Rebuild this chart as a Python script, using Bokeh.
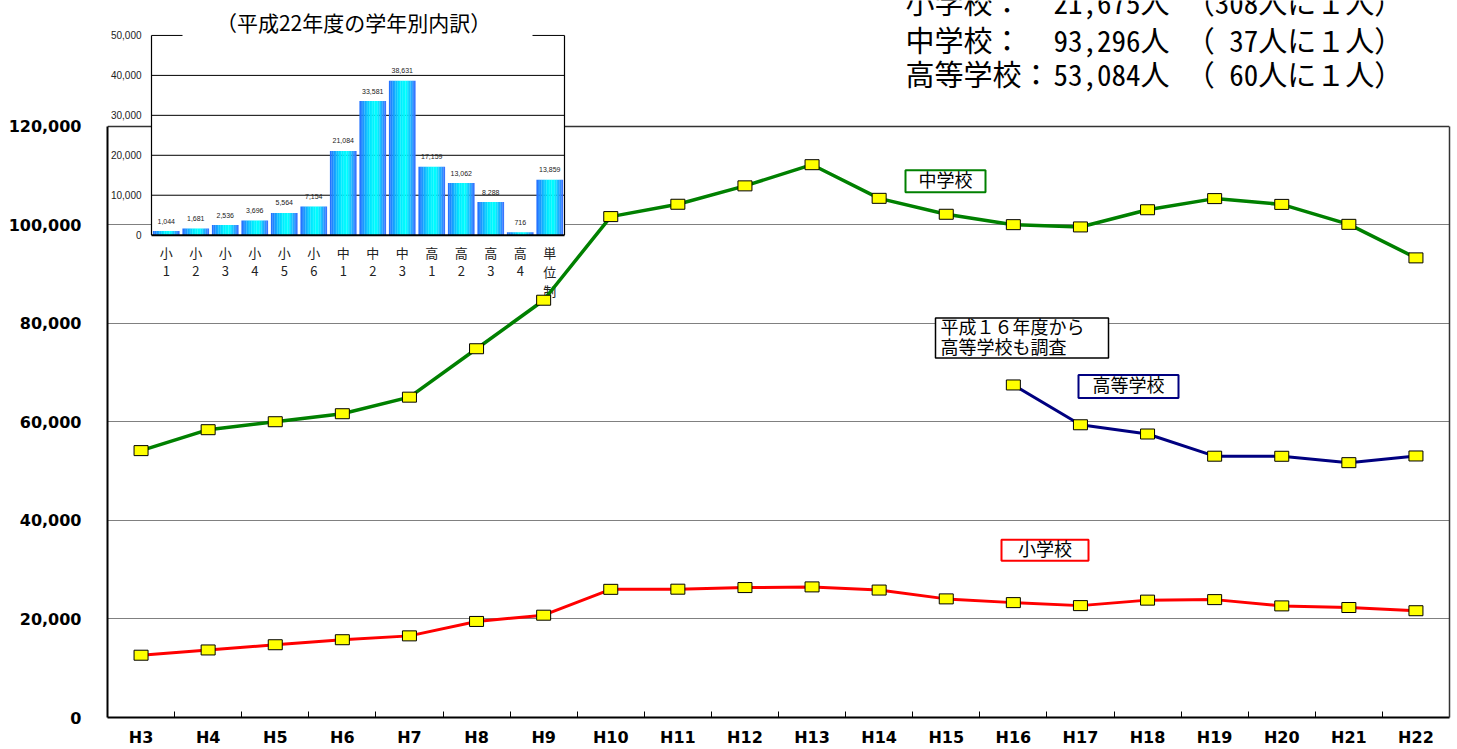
from bokeh.plotting import figure
from bokeh.models import Range1d, FixedTicker, LinearAxis, Grid, NumeralTickFormatter
from bokeh.core.properties import value
from bokeh.embed import file_html
from bokeh.resources import INLINE

# ---------------- data ----------------
years = ["H3", "H4", "H5", "H6", "H7", "H8", "H9", "H10", "H11", "H12",
         "H13", "H14", "H15", "H16", "H17", "H18", "H19", "H20", "H21", "H22"]
junior_high = [54172, 58421, 60039, 61663, 65022, 74853, 84701, 101675, 104180, 107913,
               112211, 105383, 102149, 100040, 99578, 103069, 105328, 104153, 100105, 93296]
elementary = [12645, 13710, 14769, 15786, 16569, 19498, 20765, 26017, 26047, 26373,
              26511, 25869, 24077, 23318, 22709, 23825, 23927, 22652, 22327, 21675]
high_years = ["H16", "H17", "H18", "H19", "H20", "H21", "H22"]
high_school = [67500, 59419, 57544, 53041, 53024, 51728, 53084]
y_ticks = [0, 20000, 40000, 60000, 80000, 100000, 120000]

grade_labels = ["小1", "小2", "小3", "小4", "小5", "小6", "中1", "中2", "中3",
                "高1", "高2", "高3", "高4", "単位制"]
grade_counts = [1044, 1681, 2536, 3696, 5564, 7154, 21084, 33581, 38631,
                17159, 13062, 8288, 716, 13859]
inset_ticks = [0, 10000, 20000, 30000, 40000, 50000]
inset_title = "（平成22年度の学年別内訳）"

summary_labels = ["小学校：", "中学校：", "高等学校："]
summary_counts = ["21,675人", "93,296人", "53,084人"]
summary_ratios = ["（308人に１人）", "（ 37人に１人）", "（ 60人に１人）"]

# ---------------- layout (canvas px) ----------------
W, H = 1457, 749
FL, FR, FB = 107, 1449, 718         # frame left / right / bottom, frame top = 0
Y120_PX = 126                       # canvas px of 120,000
y_end = 120000 * FB / (FB - Y120_PX)
NB = len(years)
main_band = (FR - FL) / NB

def X(px):
    return (px - FL) / main_band - 0.5

def Y(py):
    return (FB - py) / FB * y_end

p = figure(width=W, height=H, output_backend="svg", toolbar_location=None,
           x_range=Range1d(-0.5, NB - 0.5), y_range=Range1d(0, y_end),
           x_axis_type=None, y_axis_type=None,
           min_border_left=FL, min_border_right=W - FR, min_border_top=0,
           min_border_bottom=H - FB)
p.outline_line_color = None
p.background_fill_color = "white"
p.border_fill_color = "white"

# main axes
yax = LinearAxis(ticker=FixedTicker(ticks=y_ticks), formatter=NumeralTickFormatter(format="0,0"),
                 bounds=(0, 120000))
yax.axis_line_color = "black"
yax.axis_line_width = 2
yax.major_tick_in = 0
yax.major_tick_out = 0
yax.minor_tick_in = 0
yax.minor_tick_out = 0
yax.major_label_standoff = 26
yax.major_label_text_font = "DejaVu Sans"
yax.major_label_text_font_style = "bold"
yax.major_label_text_font_size = "16px"
yax.major_label_text_color = "black"
p.add_layout(yax, "left")

rax = LinearAxis(ticker=FixedTicker(ticks=[]), bounds=(0, 120000))
rax.axis_line_color = "#333333"
rax.axis_line_width = 1.5
rax.major_tick_in = 0
rax.major_tick_out = 0
rax.minor_tick_in = 0
rax.minor_tick_out = 0
rax.major_label_standoff = 0
rax.major_label_text_font_size = "0px"
p.add_layout(rax, "right")

xax = LinearAxis(ticker=FixedTicker(ticks=list(range(NB)),
                                    minor_ticks=[i + 0.5 for i in range(NB - 1)]),
                 major_label_overrides={i: y for i, y in enumerate(years)})
xax.axis_line_color = "black"
xax.axis_line_width = 2
xax.major_tick_in = 0
xax.major_tick_out = 0
xax.minor_tick_in = 6
xax.minor_tick_out = 0
xax.minor_tick_line_color = "black"
xax.minor_tick_line_width = 1
xax.major_label_standoff = 10
xax.major_label_text_font = "DejaVu Sans"
xax.major_label_text_font_style = "bold"
xax.major_label_text_font_size = "16px"
xax.major_label_text_color = "black"
p.add_layout(xax, "below")

grid = Grid(dimension=1, ticker=FixedTicker(ticks=y_ticks[1:-1]),
            grid_line_color="#808080", grid_line_width=1)
p.add_layout(grid)
topgrid = Grid(dimension=1, ticker=FixedTicker(ticks=[y_ticks[-1]]),
               grid_line_color="#333333", grid_line_width=1.5)
p.add_layout(topgrid)

# ---------------- inset ----------------
NI = len(grade_labels)
IL, IR = 151, 564          # canvas px of inset left / right
I0_PX, I50_PX = 235, 35    # canvas px of 0 and 50,000
ib = (IR - IL) / NI
ix_start = -(IL - FL) / ib
ix_end = ix_start + (FR - FL) / ib
ppu = (I0_PX - I50_PX) / inset_ticks[-1]
iy_start = -(FB - I0_PX) / ppu
iy_end = I0_PX / ppu
p.extra_x_ranges = {"ix": Range1d(ix_start, ix_end)}
p.extra_y_ranges = {"iy": Range1d(iy_start, iy_end)}
R = dict(x_range_name="ix", y_range_name="iy")

p.quad(left=[0], right=[NI], bottom=[-64 / ppu], top=[inset_ticks[-1]],
       fill_color="white", line_color=None, **R)

# inset grid lines
p.segment(x0=[0] * 4, x1=[NI] * 4, y0=inset_ticks[1:-1], y1=inset_ticks[1:-1],
          line_color="black", line_width=1, **R)
gap0, gap1 = 31 / ib, 381 / ib
p.segment(x0=[0, gap1], x1=[gap0, NI], y0=[inset_ticks[-1]] * 2, y1=[inset_ticks[-1]] * 2,
          line_color="black", line_width=1, **R)
p.segment(x0=[0, NI], x1=[0, NI], y0=[0, 0], y1=[inset_ticks[-1]] * 2,
          line_color="black", line_width=1.2, **R)

# gradient bars
NS = 16
BW = 0.9
def grad(t):
    stops = [(0.0, (40, 105, 255)), (0.42, (0, 235, 255)), (0.65, (0, 255, 255)),
             (1.0, (60, 105, 255))]
    for (t0, c0), (t1, c1) in zip(stops[:-1], stops[1:]):
        if t <= t1:
            f = (t - t0) / (t1 - t0)
            return "#%02x%02x%02x" % tuple(int(round(a + (b - a) * f)) for a, b in zip(c0, c1))
    return "#%02x%02x%02x" % stops[-1][1]

bx, bt, bc = [], [], []
for i, c in enumerate(grade_counts):
    for k in range(NS):
        bx.append(i + 0.5 - BW / 2 + (k + 0.5) * BW / NS)
        bt.append(c)
        bc.append(grad((k + 0.5) / NS))
p.vbar(x=bx, top=bt, bottom=0, width=BW / NS * 1.08, fill_color=bc, line_color=None, **R)

p.segment(x0=[0], x1=[NI], y0=[0], y1=[0], line_color="black", line_width=2, **R)

# inset tick labels
p.text(x=[0] * len(inset_ticks), y=inset_ticks, text=[f"{t:,}" for t in inset_ticks],
       x_offset=-10, text_align="right", text_baseline="middle",
       text_font=value("Liberation Sans"), text_font_size="10px", text_color="#222222", **R)

# value labels
p.text(x=[i + 0.5 for i in range(NI)], y=[c + 10 / ppu for c in grade_counts],
       text=[f"{c:,}" for c in grade_counts], text_align="center", text_baseline="middle",
       text_font=value("Liberation Sans"), text_font_size="7px", text_color="#222222", **R)

# category labels (one character per row)
cx, cy, ct = [], [], []
for i, lab in enumerate(grade_labels):
    for j, ch in enumerate(lab):
        cx.append(i + 0.5)
        cy.append(-(17 + 19 * j) / ppu)
        ct.append(ch)
p.text(x=cx, y=cy, text=ct, text_align="center", text_baseline="middle",
       text_font=value("Noto Sans CJK JP"), text_font_size="13px", text_color="#222222", **R)

# inset title
p.text(x=[NI / 2 - 0.15], y=[(I0_PX - 22) / ppu], text=[inset_title],
       text_align="center", text_baseline="middle",
       text_font=value("Noto Sans CJK JP"), text_font_size="21px", text_color="black", **R)

# ---------------- main series ----------------
xs = list(range(NB))
hx = [years.index(y) for y in high_years]
p.line(xs, junior_high, line_color="#008000", line_width=3.5)
p.line(xs, elementary, line_color="#ff0000", line_width=3)
p.line(hx, high_school, line_color="#000080", line_width=3)
for xx, yy in ((xs, junior_high), (xs, elementary), (hx, high_school)):
    p.rect(x=xx, y=yy, width=14, height=10, width_units="screen", height_units="screen",
           fill_color="#ffff00", line_color="black", line_width=1)

# ---------------- boxed labels ----------------
def box(lines, cx_px, cy_px, w, h, color, lw=2, align="center", tx_px=None, dy=20):
    p.rect(x=[X(cx_px)], y=[Y(cy_px)], width=w, height=h, width_units="screen",
           height_units="screen", fill_color="white", line_color=color, line_width=lw)
    tx = X(cx_px) if tx_px is None else X(tx_px)
    n = len(lines)
    ys = [Y(cy_px - 2 + (j - (n - 1) / 2) * dy) for j in range(n)]
    p.text(x=[tx] * n, y=ys, text=lines, text_align=align, text_baseline="middle",
           text_font=value("Noto Sans CJK JP"), text_font_size="18px", text_color="black")

box(["中学校"], 945, 181, 80, 22, "#008000")
box(["高等学校"], 1128, 386.5, 100, 23, "#000080")
box(["小学校"], 1044.5, 550.5, 87, 21, "#ff0000")
box(["平成１６年度から", "高等学校も調査"], 1021.5, 338, 173, 40, "black", lw=1.5,
    align="left", tx_px=940)

# ---------------- summary text (top right) ----------------
rows = [1, 39, 73]
sfont = value("'Noto Sans Mono CJK JP', 'Noto Sans CJK JP'")
p.text(x=[X(905)] * 3, y=[Y(r) for r in rows], text=summary_labels,
       text_align="left", text_baseline="middle",
       text_font=sfont, text_font_size="29px", text_color="black")
p.text(x=[X(1053)] * 3, y=[Y(r) for r in rows], text=summary_counts,
       text_align="left", text_baseline="middle",
       text_font=sfont, text_font_size="29px", text_color="black")
p.text(x=[X(1294)] * 3, y=[Y(r) for r in rows], text=summary_ratios,
       text_align="center", text_baseline="middle",
       text_font=sfont, text_font_size="29px", text_color="black")

open("out.html", "w").write(file_html(p, INLINE))
